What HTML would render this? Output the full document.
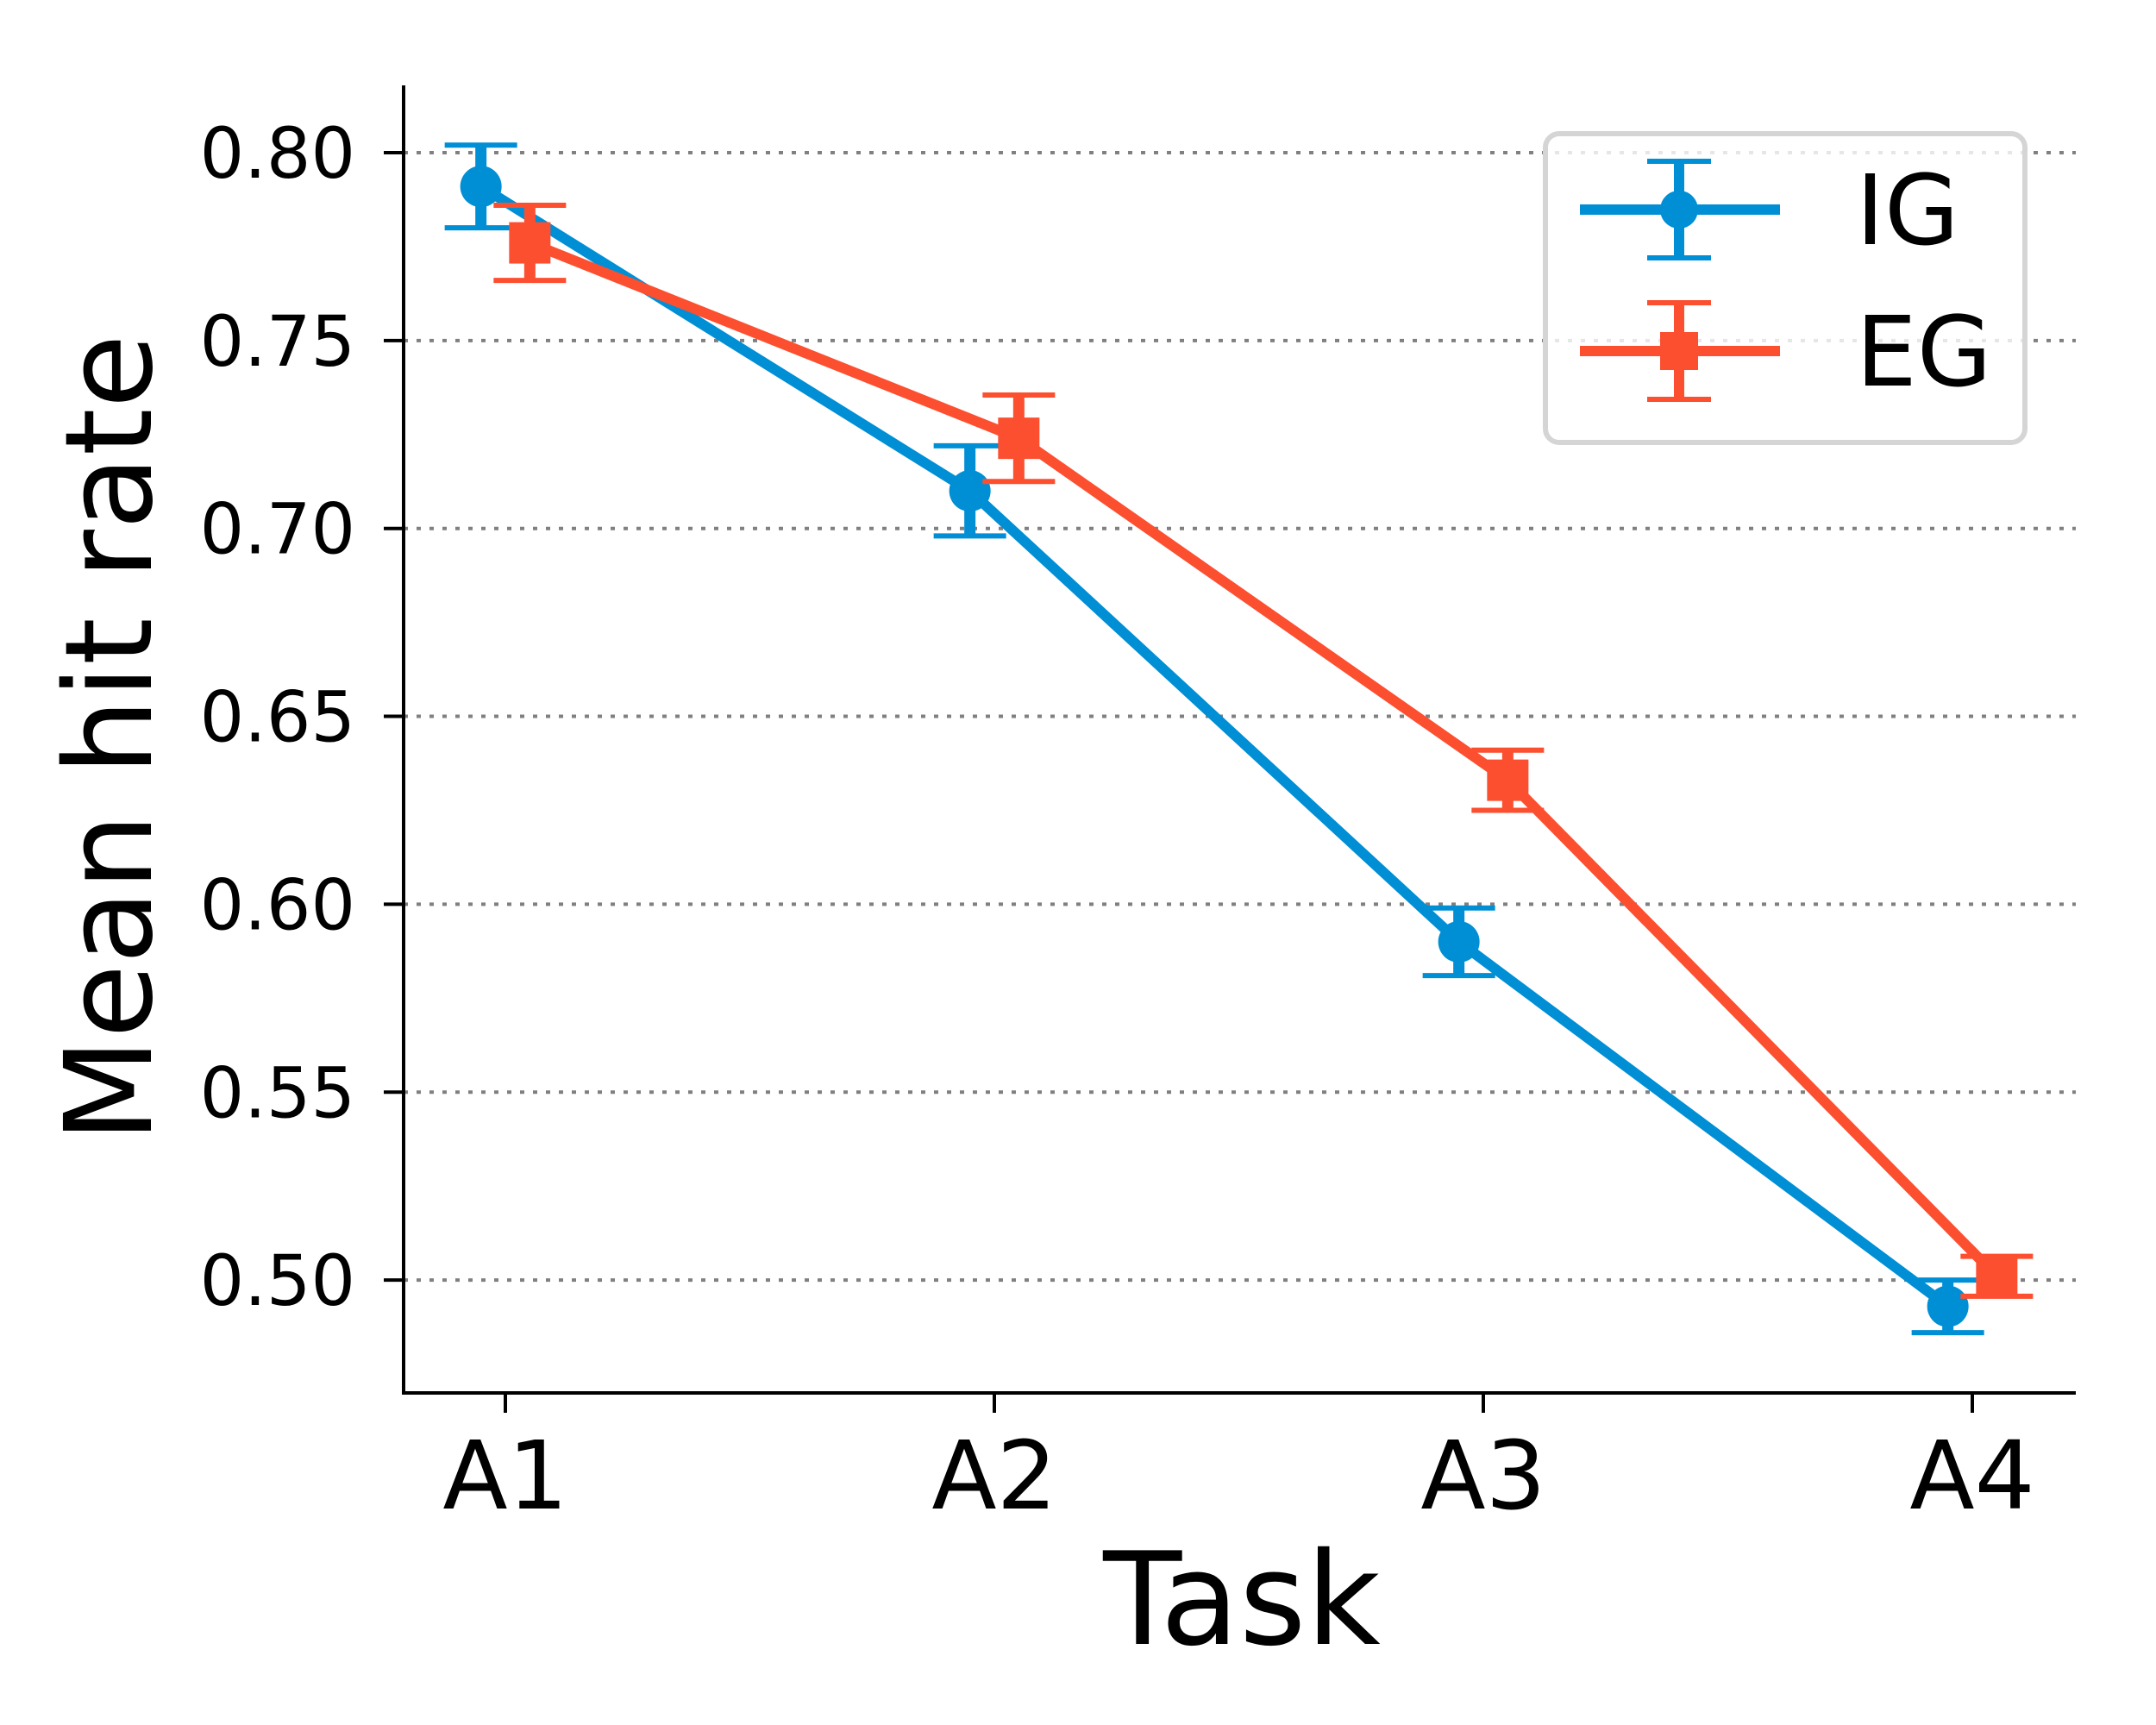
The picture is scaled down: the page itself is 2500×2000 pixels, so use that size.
<!DOCTYPE html>
<html><head><meta charset="utf-8"><style>
html,body{margin:0;padding:0;background:#fff;}
svg{display:block;font-family:"DejaVu Sans","Liberation Sans",sans-serif;}
</style></head><body>
<svg id="chart" width="2500" height="2000" viewBox="0 0 2500 2000" xmlns="http://www.w3.org/2000/svg">
<g id="grid"></g>
<g id="axes"></g>
<g id="series"></g>
<text x="1440" y="1906" font-size="149" text-anchor="middle">Task</text>
<text transform="translate(175,856) rotate(-90)" font-size="140" text-anchor="middle">Mean hit rate</text>
<g id="legend"></g>
</svg>
<script>
const categories = ["A1","A2","A3","A4"];
const yTicks = [0.50,0.55,0.60,0.65,0.70,0.75,0.80];
const yTickLabels = ["0.50","0.55","0.60","0.65","0.70","0.75","0.80"];
const seriesNames = ["IG","EG"];
const igValues = [0.791,0.710,0.590,0.493];
const igErrors = [0.011,0.012,0.009,0.007];
const egValues = [0.776,0.724,0.633,0.501];
const egErrors = [0.010,0.0115,0.008,0.0053];

const NS="http://www.w3.org/2000/svg";
const L=468,R=2407,T=99,B=1615;
function xScale(i){return 586+i*567;}
function yScale(v){return 177+(0.80-v)*4357;}
function mk(tag,attrs,parent){const e=document.createElementNS(NS,tag);for(const k in attrs)e.setAttribute(k,attrs[k]);parent.appendChild(e);return e;}
const grid=document.getElementById('grid'),axes=document.getElementById('axes'),series=document.getElementById('series'),legend=document.getElementById('legend');

yTicks.forEach((v,i)=>{
  const y=yScale(v);
  const g=mk('line',{x1:L,x2:R,y1:y,y2:y,stroke:'#808080','stroke-width':4,'stroke-dasharray':'5 10'},grid);
  
  
  const t=mk('line',{x1:L-23,x2:L,y1:y,y2:y,stroke:'#000','stroke-width':4},axes);
  
  
  const lb=mk('text',{x:L-56,y:y+29,'font-size':81,'text-anchor':'end'},axes);
  lb.textContent=yTickLabels[i];
  
  
});
categories.forEach((c,i)=>{
  const x=xScale(i);
  const t=mk('line',{x1:x,x2:x,y1:B,y2:B+23,stroke:'#000','stroke-width':4},axes);
  
  
  const lb=mk('text',{x:x,y:1749,'font-size':110,'text-anchor':'middle'},axes);
  lb.textContent=c;
  
  
});
const ax=mk('path',{d:`M${L},${T} L${L},${B} L${R},${B}`,fill:'none',stroke:'#000','stroke-width':4},axes);



function drawSeries(vals,errs,offset,color,square,name){
  const g=mk('g',{},series);
  
  
  const pts=vals.map((v,i)=>[xScale(i+offset),yScale(v)]);
  const ln=mk('polyline',{points:pts.map(p=>p.join(',')).join(' '),fill:'none',stroke:color,'stroke-width':12,'stroke-linejoin':'round'},g);
  
  
  vals.forEach((v,i)=>{
    const x=xScale(i+offset),y1=yScale(v+errs[i]),y2=yScale(v-errs[i]);
    const eb=mk('path',{d:`M${x-42},${y1} L${x+42},${y1} M${x-42},${y2} L${x+42},${y2}`,stroke:color,'stroke-width':6,fill:'none'},g);
    
    
    const st=mk('line',{x1:x,x2:x,y1:y1,y2:y2,stroke:color,'stroke-width':13},g);
    
    
    let m;
    if(square){m=mk('rect',{x:x-24,y:yScale(v)-24,width:48,height:48,fill:color},g);}
    else{m=mk('circle',{cx:x,cy:yScale(v),r:24,fill:color},g);}
    
    
  });
}
drawSeries(igValues,igErrors,-0.05,'#008fd5',false,'ig');
drawSeries(egValues,egErrors,0.05,'#fc4f30',true,'eg');

const box=mk('rect',{x:1792,y:155,width:556,height:358,rx:16,fill:'#fff','fill-opacity':0.8,stroke:'#d5d5d5','stroke-width':6},legend);


[['#008fd5',false,243],['#fc4f30',true,407]].forEach((s,i)=>{
  const [color,sq,y]=s;
  const g=mk('g',{},legend);
  
  
  mk('line',{x1:1832,x2:2064,y1:y,y2:y,stroke:color,'stroke-width':12},g);
  const cx=1947;
  mk('path',{d:`M${cx-37},${y-56} L${cx+37},${y-56} M${cx-37},${y+56} L${cx+37},${y+56}`,stroke:color,'stroke-width':6,fill:'none'},g);
  mk('line',{x1:cx,x2:cx,y1:y-56,y2:y+56,stroke:color,'stroke-width':12},g);
  if(sq) mk('rect',{x:cx-22,y:y-22,width:44,height:44,fill:color},g);
  else mk('circle',{cx:cx,cy:y,r:22,fill:color},g);
  const t=mk('text',{x:2152,y:y+40,'font-size':112},g);
  t.textContent=seriesNames[i];
  
  
});
</script>
</body></html>
